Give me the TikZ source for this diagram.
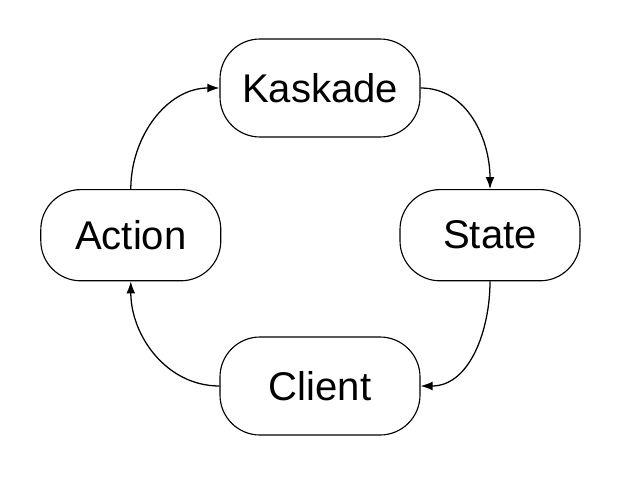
\documentclass[tikz,border=0pt]{standalone}
\usepackage{fontspec}
\setmainfont{Liberation Sans}
\usetikzlibrary{arrows.meta}

\begin{document}
\begin{tikzpicture}[
  stage/.style={draw,thick,rounded corners=1.0cm,minimum width=4.5cm,minimum height=2.28cm,inner sep=0pt,font=\fontsize{28.5}{34}\selectfont},
  widestage/.style={stage,minimum width=5cm,minimum height=2.45cm},
  flow/.style={-{Latex[length=0.3cm,width=0.22cm]},line width=0.9pt}
  ]
	\useasboundingbox (0,0) rectangle (15.5,12);

	%draw the four stages
	\node[widestage] (kaskade) at (8,9.8) {Kaskade};
	\node[stage] (state) at (12.25,6.12) {State};
	\node[widestage] (client) at (8,2.35) {Client};
	\node[stage] (action) at (3.27,6.12) {Action};

	%draw the cycle
	\draw[flow] (kaskade.east) to[out=0,in=90] (state.north);
	\draw[flow] (state.south) to[out=-90,in=0] (client.east);
	\draw[flow] (client.west) to[out=180,in=-90] (action.south);
	\draw[flow] (action.north) to[out=90,in=180] (kaskade.west);

\end{tikzpicture}
\end{document}
